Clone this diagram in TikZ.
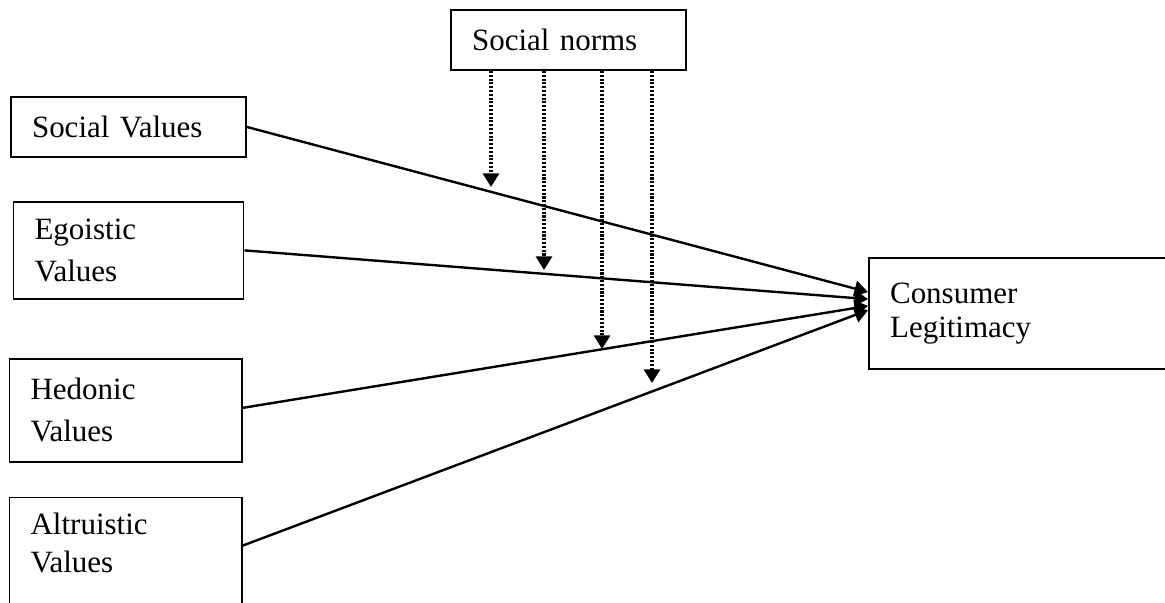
\documentclass[tikz,border=0pt]{standalone}
\usepackage{fontspec}
\setmainfont{Liberation Serif}
\usetikzlibrary{arrows.meta}
\usetikzlibrary{positioning}

\begin{document}
\begin{tikzpicture}[x=0.355pt, y=-0.355pt, node distance=44pt,
        valbox/.style={draw, rectangle, line width=0.65pt, align=left, inner xsep=7.5pt, font=\fontsize{11}{14.9}\selectfont},
        effect/.style={-{Triangle[length=4.8pt,width=5.6pt]}, line width=0.85pt},
        normline/.style={-{Triangle[length=4.8pt,width=5.6pt]}, line width=1.2pt, dash pattern=on 0.75pt off 0.6pt}]

    \clip (0,0) rectangle (1165,603);

    % Value boxes (left column)
    \node [valbox, text width=68.5pt, minimum height=21.3pt] (Social) at (128.5,127) {Social Values};
    \node [valbox, below of=Social, node distance=43.8pt, text width=66.7pt, minimum height=34.4pt] (Egoistic) {Egoistic\\Values};
    \node [valbox, below of=Egoistic, node distance=56.8pt, xshift=-1pt, text width=67.5pt, minimum height=36.6pt] (Hedonic) {Hedonic\\Values};
    \node [valbox, below of=Hedonic, node distance=50.8pt, text width=67.5pt, minimum height=39.8pt, text depth=21pt, font=\fontsize{11}{13.5}\selectfont] (Altruistic) {Altruistic\\Values};

    % Outcome and moderator
    \node [valbox, text width=91.9pt, minimum height=39.4pt, font=\fontsize{11}{12.3}\selectfont] (Legit) at (1019.5,313.5) {Consumer\\Legitimacy};
    \node [valbox, text width=68.5pt, minimum height=21.3pt] (Norms) at (568.5,40) {Social norms};

    % Ends of the moderating arrows
    \coordinate (n1) at (491,187);
    \coordinate (n2) at (544,270);
    \coordinate (n3) at (602,349);
    \coordinate (n4) at (652,383);

    % Direct effects
    \draw [effect] (Social.east) -- ([yshift=7.6pt]Legit.west);
    \draw [effect] (Egoistic.east) -- ([yshift=5.1pt]Legit.west);
    \draw [effect] ([yshift=0.9pt]Hedonic.east) -- ([yshift=2.7pt]Legit.west);
    \draw [effect] ([yshift=2.8pt]Altruistic.east) -- ([yshift=1.2pt]Legit.west);

    % Moderation by social norms
    \foreach \n in {n1,n2,n3,n4}
        \draw [normline] (\n |- Norms.south) -- (\n);

\end{tikzpicture}
\end{document}
